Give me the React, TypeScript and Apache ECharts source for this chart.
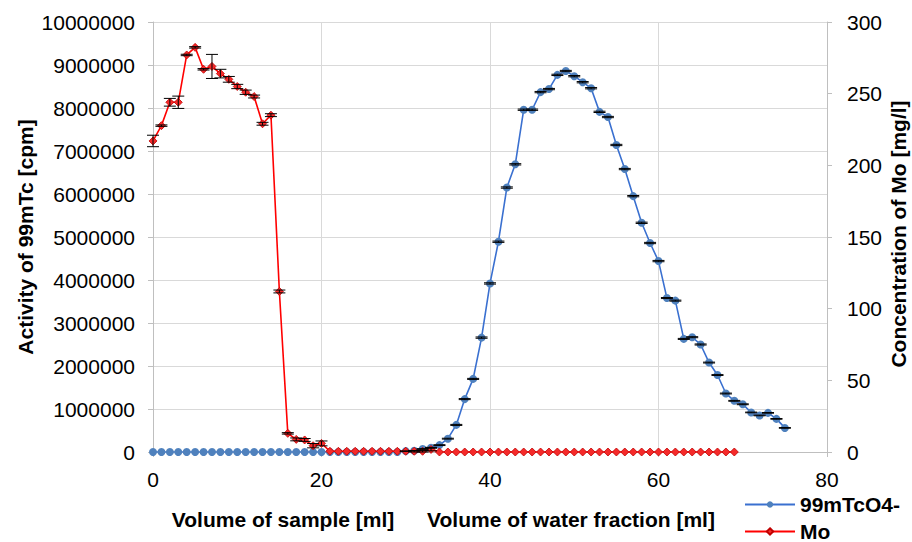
import React, { useEffect, useRef } from "react";
import * as echarts from "echarts";

// 99mTcO4- activity [cpm], one point per ml, x = 0..75
const tcActivity = [
  0, 0, 0, 0, 0, 0, 0, 0, 0, 0,
  0, 0, 0, 0, 0, 0, 0, 0, 0, 0,
  0, 0, 0, 0, 0, 0, 0, 0, 0, 0,
  20000, 30000, 70000, 100000, 160000, 310000, 630000, 1230000, 1700000, 2660000,
  3920000, 4890000, 6150000, 6690000, 7960000, 7960000, 8370000, 8440000, 8770000, 8860000,
  8740000, 8600000, 8460000, 7910000, 7790000, 7140000, 6580000, 5950000, 5330000, 4860000,
  4440000, 3580000, 3520000, 2630000, 2670000, 2500000, 2080000, 1790000, 1360000, 1190000,
  1110000, 920000, 850000, 910000, 770000, 560000,
];
const tcError = [
  0, 0, 0, 0, 0, 0, 0, 0, 0, 0,
  0, 0, 0, 0, 0, 0, 0, 0, 0, 0,
  0, 0, 0, 0, 0, 0, 0, 0, 0, 0,
  5000, 5000, 8000, 8000, 10000, 10000, 12000, 12000, 12000, 15000,
  15000, 15000, 15000, 15000, 15000, 15000, 15000, 15000, 15000, 15000,
  15000, 15000, 15000, 15000, 15000, 15000, 15000, 15000, 15000, 15000,
  15000, 12000, 12000, 12000, 12000, 12000, 10000, 10000, 10000, 10000,
  10000, 8000, 8000, 8000, 8000, 8000,
];

// Mo concentration [mg/l], one point per ml, x = 0..69
const moConc = [
  217, 227.7, 244, 244, 277, 282.3, 267, 269, 264, 260,
  255, 251, 248, 229, 235, 112, 13, 8.8, 8.4, 4.4,
  6.0, 0.5, 0.5, 0.5, 0.5, 0.5, 0.5, 0.5, 0.5, 0.5,
  0.5, 0.5, 0.5, 1.8, 0, 0, 0, 0, 0, 0,
  0, 0, 0, 0, 0, 0, 0, 0, 0, 0,
  0, 0, 0, 0, 0, 0, 0, 0, 0, 0,
  0, 0, 0, 0, 0, 0, 0, 0, 0, 0,
];
const moError = [
  4, 0.5, 2.7, 4.3, 0.5, 0.5, 0.5, 8.4, 3, 2,
  1.5, 1.5, 1, 1, 1, 1, 0.5, 1, 1, 1.5,
  1.7, 0, 0, 0, 0, 0, 0, 0, 0, 0,
  0, 0.5, 0.5, 1, 0, 0, 0, 0, 0, 0,
  0, 0, 0, 0, 0, 0, 0, 0, 0, 0,
  0, 0, 0, 0, 0, 0, 0, 0, 0, 0,
  0, 0, 0, 0, 0, 0, 0, 0, 0, 0,
];

const seriesNames = ["99mTcO4-", "Mo"];
const xTitleSample = "Volume of sample [ml]";
const xTitleWater = "Volume of water fraction [ml]";
const yTitleLeft = "Activity of 99mTc [cpm]";
const yTitleRight = "Concentration of Mo [mg/l]";

const FONT = "'Liberation Sans', Arial, sans-serif";

function errorRender(capHalf: number) {
  return (params: any, api: any) => {
    const x = api.value(0);
    const y = api.value(1);
    const e = api.value(2);
    if (!e) return { type: "group", children: [] };
    const hi = api.coord([x, y + e]);
    const lo = api.coord([x, y - e]);
    const style = { stroke: "#000", lineWidth: 1 };
    return {
      type: "group",
      children: [
        { type: "line", shape: { x1: hi[0], y1: hi[1], x2: lo[0], y2: lo[1] }, style },
        { type: "line", shape: { x1: hi[0] - capHalf, y1: hi[1], x2: hi[0] + capHalf, y2: hi[1] }, style },
        { type: "line", shape: { x1: lo[0] - capHalf, y1: lo[1], x2: lo[0] + capHalf, y2: lo[1] }, style },
      ],
    };
  };
}

export default function App() {
  const ref = useRef<HTMLDivElement>(null);
  useEffect(() => {
    if (!ref.current) return;
    const chart = echarts.init(ref.current, null, { renderer: "svg" });
    const axisGray = "#bfbfbf";
    const legendText = { fontFamily: FONT, fontSize: 21, fontWeight: "bold", color: "#000" };
    chart.setOption({
      animation: false,
      textStyle: { fontFamily: FONT },
      grid: { left: 153, right: 85, top: 22, bottom: 90, containLabel: false },
      legend: [
        {
          data: [seriesNames[0]],
          left: 744,
          top: 494,
          padding: 0,
          itemWidth: 50,
          itemHeight: 8,
          textStyle: legendText,
        },
        {
          data: [seriesNames[1]],
          left: 744,
          top: 521,
          padding: 0,
          itemWidth: 50,
          itemHeight: 8,
          textStyle: legendText,
        },
      ],
      xAxis: {
        type: "value",
        min: 0,
        max: 80,
        interval: 20,
        axisLine: { show: true, lineStyle: { color: axisGray } },
        axisTick: { show: true, length: 5, lineStyle: { color: axisGray } },
        axisLabel: { fontSize: 21, color: "#000", margin: 17, fontFamily: FONT },
        splitLine: { show: true, lineStyle: { color: "#d9d9d9" } },
      },
      yAxis: [
        {
          type: "value",
          min: 0,
          max: 10000000,
          interval: 1000000,
          axisLine: { show: true, lineStyle: { color: axisGray } },
          axisTick: { show: true, length: 5, lineStyle: { color: axisGray } },
          axisLabel: {
            fontSize: 21,
            color: "#000",
            margin: 18,
            fontFamily: FONT,
            formatter: (v: number) => String(v),
          },
          splitLine: { show: true, lineStyle: { color: "#d9d9d9" } },
        },
        {
          type: "value",
          min: 0,
          max: 300,
          interval: 50,
          position: "right",
          axisLine: { show: true, lineStyle: { color: axisGray } },
          axisTick: { show: true, length: 5, lineStyle: { color: axisGray } },
          axisLabel: { fontSize: 21, color: "#000", margin: 20, fontFamily: FONT },
          splitLine: { show: false },
        },
      ],
      graphic: [
        {
          type: "text",
          x: 283,
          y: 519,
          style: { text: xTitleSample, font: `bold 21px ${FONT}`, fill: "#000", align: "center", verticalAlign: "middle" },
        },
        {
          type: "text",
          x: 571,
          y: 519,
          style: { text: xTitleWater, font: `bold 21px ${FONT}`, fill: "#000", align: "center", verticalAlign: "middle" },
        },
        {
          type: "text",
          x: 25,
          y: 237,
          rotation: Math.PI / 2,
          style: { text: yTitleLeft, font: `bold 21px ${FONT}`, fill: "#000", align: "center", verticalAlign: "middle" },
        },
        {
          type: "text",
          x: 898,
          y: 234,
          rotation: Math.PI / 2,
          style: { text: yTitleRight, font: `bold 21px ${FONT}`, fill: "#000", align: "center", verticalAlign: "middle" },
        },
      ],
      series: [
        {
          name: seriesNames[0],
          type: "line",
          yAxisIndex: 0,
          data: tcActivity.map((v, i) => [i, v]),
          symbol: "circle",
          symbolSize: 8,
          lineStyle: { color: "#3a70d0", width: 1.6 },
          itemStyle: { color: "#4f81bd" },
          z: 2,
        },
        {
          name: seriesNames[1],
          type: "line",
          yAxisIndex: 1,
          data: moConc.map((v, i) => [i, v]),
          symbol: "diamond",
          symbolSize: 8,
          lineStyle: { color: "#ff0000", width: 1.6 },
          itemStyle: { color: "#f52a2a", borderColor: "#c00000", borderWidth: 0.8 },
          z: 3,
        },
        {
          name: "tcErr",
          type: "custom",
          yAxisIndex: 0,
          data: tcActivity.map((v, i) => [i, v, tcError[i]]),
          encode: { x: 0, y: 1 },
          renderItem: errorRender(6),
          z: 4,
          silent: true,
        },
        {
          name: "moErr",
          type: "custom",
          yAxisIndex: 1,
          data: moConc.map((v, i) => [i, v, moError[i]]),
          encode: { x: 0, y: 1 },
          renderItem: errorRender(6),
          z: 4,
          silent: true,
        },
      ],
    });
    return () => chart.dispose();
  }, []);
  return <div ref={ref} style={{ width: 912, height: 542, position: "absolute", left: 0, top: 0 }} />;
}
